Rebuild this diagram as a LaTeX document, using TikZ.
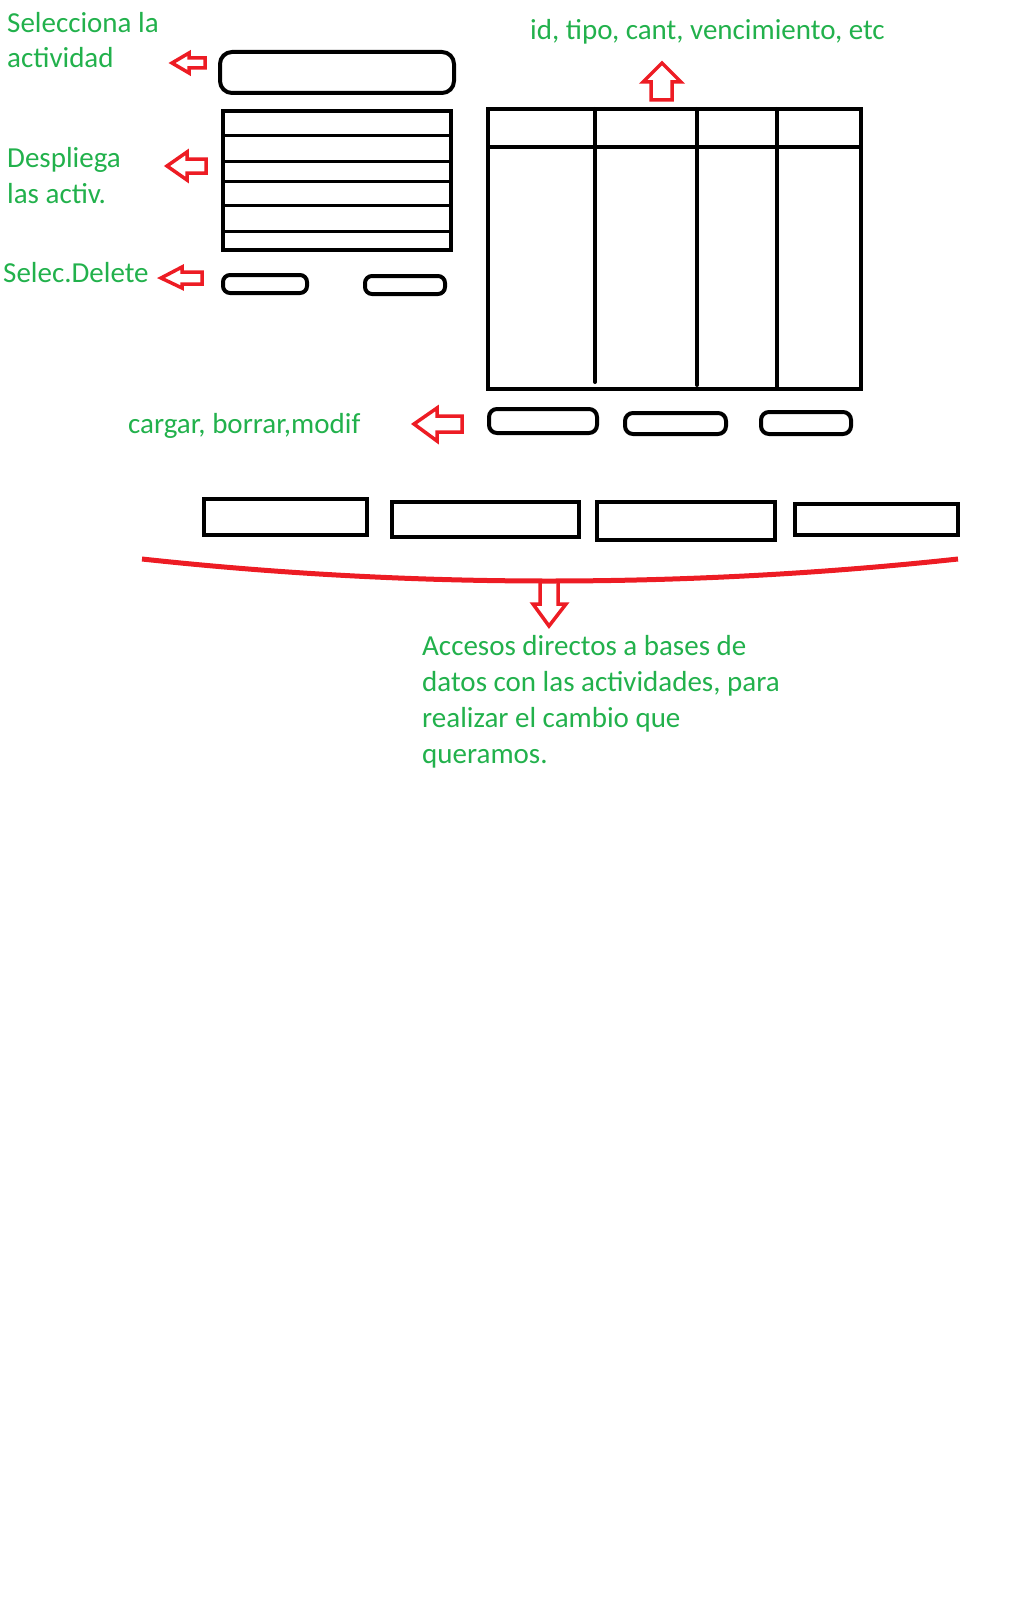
\documentclass[tikz,border=0pt]{standalone}
\usepackage{fontspec}
\setmainfont{Carlito}
\definecolor{pgreen}{RGB}{34,177,76}
\definecolor{pred}{RGB}{237,28,36}
\begin{document}
\begin{tikzpicture}[x=1pt,y=-1pt,
  lbl/.style={text=pgreen, font=\fontsize{29}{36}\selectfont, inner sep=0pt, anchor=base west},
  box/.style={draw=black, line width=4pt, inner sep=0pt},
  rbox/.style={box, rounded corners=8pt},
  rowline/.style={draw=black, line width=3pt},
  barrow/.style={draw=pred, line width=3.5pt, line join=miter},
  brace/.style={draw=pred, line width=5pt},
  ]
\useasboundingbox (0,0) rectangle (1013,1600);

% ---------- left column: selector, list, buttons ----------
\node[rbox, rounded corners=12pt, minimum width=234pt, minimum height=41pt] (combo) at (337,72.5) {};
\node[box, minimum width=228pt, minimum height=139pt] (list) at (337,180.5) {};
\foreach \yy in {136,161,181,205,231}
  \draw[rowline] (list.west |- 0,\yy) -- (list.east |- 0,\yy);
\node[rbox, rounded corners=7pt, minimum width=84pt, minimum height=18pt] (del1) at (265,284) {};
\node[rbox, rounded corners=7pt, minimum width=80pt, minimum height=18pt] (del2) at (405,285) {};

% labels left
\node[lbl] (t1a) at (7,33) {Selecciona la};
\node[lbl] (t1b) at (7,68) {actividad};
\node[lbl] (t2a) at (7,167) {Despliega};
\node[lbl] (t2b) at (7,203) {las activ.};
\node[lbl] (t3) at (3,282) {Selec.Delete};

% left-pointing hollow arrows
\draw[barrow] (172,63) -- (189,53) -- (189,58) -- (205,58) -- (205,68) -- (189,68) -- (189,73) -- cycle;
\draw[barrow] (167,166) -- (187,152) -- (187,159) -- (206,159) -- (206,173) -- (187,173) -- (187,180) -- cycle;
\draw[barrow] (161,278) -- (182,267) -- (182,272) -- (202,272) -- (202,284) -- (182,284) -- (182,288) -- cycle;

% ---------- table ----------
\node[box, minimum width=373pt, minimum height=280pt] (tbl) at (674.5,249) {};
\draw[box] (tbl.west |- 0,147) -- (tbl.east |- 0,147);
\draw[box, line cap=round] (595,109) -- (595,382);
\draw[box, line cap=round] (697,109) -- (697,385);
\draw[box, line cap=round] (777,109) -- (777,387);

\node[lbl] (thead) at (530,40) {id, tipo, cant, vencimiento, etc};
\draw[barrow] (662,63) -- (681,82) -- (672,82) -- (672,100) -- (651,100) -- (651,82) -- (643,82) -- cycle;

% table buttons
\node[rbox, rounded corners=8pt, minimum width=108pt, minimum height=24pt] (bA) at (543,421) {};
\node[rbox, rounded corners=8pt, minimum width=101pt, minimum height=21pt] (bB) at (675.5,423.5) {};
\node[rbox, rounded corners=8pt, minimum width=90pt, minimum height=22pt] (bC) at (806,423) {};
\node[lbl] (tcrud) at (128,433) {cargar, borrar,modif};
\draw[barrow] (414,424) -- (437,408) -- (437,416) -- (462,416) -- (462,432) -- (437,432) -- (437,441) -- cycle;

% ---------- shortcut rectangles ----------
\node[box, minimum width=163pt, minimum height=36pt] (r1) at (285.5,517) {};
\node[box, minimum width=187pt, minimum height=35pt] (r2) at (485.5,519.5) {};
\node[box, minimum width=178pt, minimum height=38pt] (r3) at (686,521) {};
\node[box, minimum width=163pt, minimum height=31pt] (r4) at (876.5,519.5) {};

% brace curve
\coordinate (cl) at (142,559);
\coordinate (cm) at (549,581);
\coordinate (cr) at (958,559);
\draw[brace] (cl) .. controls (278,573.7) and (413,581) .. (cm)
             .. controls (685,581) and (822,573.7) .. (cr);
\draw[barrow] (540,581) -- (540,604) -- (533,604) -- (549,626) -- (566,604) -- (558,604) -- (558,581);

\node[lbl] (d1) at (422,655) {Accesos directos a bases de};
\node[lbl] (d2) at (422,691) {datos con las actividades, para};
\node[lbl] (d3) at (422,727) {realizar el cambio que};
\node[lbl] (d4) at (422,763) {queramos.};
\end{tikzpicture}
\end{document}
